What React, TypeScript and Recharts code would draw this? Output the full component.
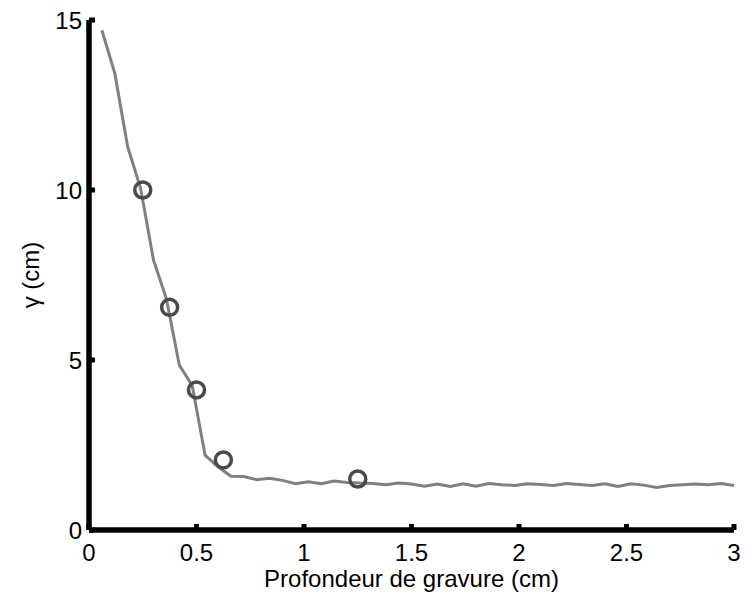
import React from 'react';
import { ComposedChart, Line, Scatter, XAxis, YAxis } from 'recharts';

// profondeur (cm) sampled every 0.06 cm
const depth = [
  0.06, 0.12, 0.18, 0.24, 0.3, 0.36, 0.42, 0.48, 0.54, 0.6,
  0.66, 0.72, 0.78, 0.84, 0.9, 0.96, 1.02, 1.08, 1.14, 1.2,
  1.26, 1.32, 1.38, 1.44, 1.5, 1.56, 1.62, 1.68, 1.74, 1.8,
  1.86, 1.92, 1.98, 2.04, 2.1, 2.16, 2.22, 2.28, 2.34, 2.4,
  2.46, 2.52, 2.58, 2.64, 2.7, 2.76, 2.82, 2.88, 2.94, 3.0,
];
const gamma = [
  14.7, 13.43, 11.27, 10.05, 7.94, 6.8, 4.85, 4.25, 2.2, 1.86,
  1.58, 1.57, 1.48, 1.52, 1.46, 1.36, 1.42, 1.36, 1.44, 1.4,
  1.38, 1.37, 1.33, 1.38, 1.35, 1.29, 1.35, 1.28, 1.36, 1.29,
  1.37, 1.33, 1.31, 1.36, 1.34, 1.31, 1.37, 1.34, 1.31, 1.36,
  1.28, 1.36, 1.32, 1.25, 1.31, 1.33, 1.35, 1.33, 1.37, 1.31,
];

// measured points (circles)
const measDepth = [0.25, 0.375, 0.5, 0.625, 1.25];
const measGamma = [10, 6.55, 4.12, 2.06, 1.5];

const xTicks = [0, 0.5, 1, 1.5, 2, 2.5, 3];
const yTicks = [0, 5, 10, 15];

const curve = depth.map((d, i) => ({ x: d, y: gamma[i] }));
const points = measDepth.map((d, i) => ({ x: d, y: measGamma[i] }));

const FONT = 'Liberation Sans, Arial, sans-serif';
const tickStyle = { fontFamily: FONT, fontSize: 24, fill: '#000' };
const labelStyle = { fontFamily: FONT, fontSize: 24, fill: '#000' };

const Ring = (props: any) => (
  <circle cx={props.cx} cy={props.cy} r={8} fill="none" stroke="#4a4a4a" strokeWidth={3.5} />
);

export default function App() {
  return (
    <div style={{ position: 'absolute', left: 0, top: 0, background: '#fff' }}>
      <ComposedChart width={746} height={601} margin={{ top: 20, right: 12, left: 9, bottom: 0 }}>
        <XAxis
          type="number"
          dataKey="x"
          domain={[0, 3]}
          ticks={xTicks}
          height={71}
          fontSize={24}
          axisLine={{ stroke: '#000', strokeWidth: 5.5 }}
          tickLine={{ stroke: '#000', strokeWidth: 5 }}
          tickSize={-6}
          tickMargin={20}
          tick={tickStyle}
          label={{ value: 'Profondeur de gravure (cm)', position: 'insideBottom', offset: 14, style: labelStyle }}
        />
        <YAxis
          type="number"
          dataKey="y"
          domain={[0, 15]}
          ticks={yTicks}
          width={80}
          fontSize={24}
          axisLine={{ stroke: '#000', strokeWidth: 5.5 }}
          tickLine={{ stroke: '#000', strokeWidth: 5 }}
          tickSize={-6}
          tickMargin={13}
          tick={tickStyle}
          label={{ value: 'γ (cm)', angle: -90, position: 'insideLeft', offset: 21, style: { ...labelStyle, textAnchor: 'middle' } }}
        />
        <Line
          data={curve}
          dataKey="y"
          type="linear"
          stroke="#808080"
          strokeWidth={3}
          dot={false}
          activeDot={false}
          isAnimationActive={false}
        />
        <Scatter data={points} dataKey="y" shape={Ring} isAnimationActive={false} />
      </ComposedChart>
    </div>
  );
}
